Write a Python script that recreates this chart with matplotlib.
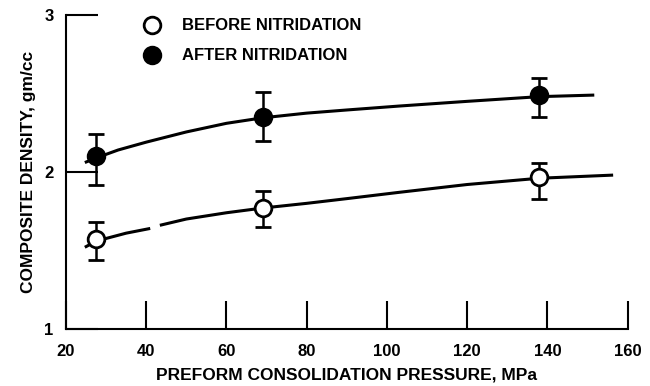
import matplotlib
matplotlib.use("Agg")
import matplotlib.pyplot as plt

# Data
pressure = [27.6, 69, 138]
before_density = [1.57, 1.77, 1.97]
before_err_low = [0.13, 0.12, 0.14]
before_err_high = [0.11, 0.11, 0.09]
after_density = [2.10, 2.35, 2.49]
after_err_low = [0.18, 0.15, 0.14]
after_err_high = [0.14, 0.16, 0.11]

# fitted curves (before curve has a small gap)
before_curve_x1 = [24.7, 27.6, 35, 41]
before_curve_y1 = [1.52, 1.56, 1.61, 1.64]
before_curve_x2 = [43.4, 50, 60, 69, 80, 90, 103, 120, 138, 156.4]
before_curve_y2 = [1.66, 1.70, 1.74, 1.77, 1.80, 1.83, 1.87, 1.92, 1.96, 1.98]
after_curve_x = [24.7, 27.6, 33, 40, 50, 60, 69, 80, 90, 103, 120, 138, 151.7]
after_curve_y = [2.06, 2.09, 2.14, 2.19, 2.255, 2.31, 2.345, 2.375, 2.395, 2.42, 2.45, 2.48, 2.49]

xticks = [20, 40, 60, 80, 100, 120, 140, 160]
yticks = [1, 2, 3]

plt.rcParams['font.family'] = ['Liberation Sans', 'DejaVu Sans']

fig = plt.figure(figsize=(6.5, 3.86), dpi=100)
ax = fig.add_axes([0.1015, 0.148, 0.864, 0.813])

lw = 2.2
ax.plot(before_curve_x1, before_curve_y1, color='black', lw=lw, solid_capstyle='butt')
ax.plot(before_curve_x2, before_curve_y2, color='black', lw=lw, solid_capstyle='butt')
ax.plot(after_curve_x, after_curve_y, color='black', lw=lw, solid_capstyle='butt')

ax.errorbar(pressure, before_density, yerr=[before_err_low, before_err_high],
            fmt='o', color='black', mfc='white', mec='black', ms=12, mew=2,
            ecolor='black', elinewidth=1.8, capsize=6, capthick=1.8, zorder=3)
ax.errorbar(pressure, after_density, yerr=[after_err_low, after_err_high],
            fmt='o', color='black', mfc='black', mec='black', ms=12, mew=2,
            ecolor='black', elinewidth=1.8, capsize=6, capthick=1.8, zorder=3)

ax.set_xlim(20, 160)
ax.set_ylim(1, 3)
ax.set_xticks(xticks)
ax.set_yticks(yticks)
ax.set_xticklabels([str(v) for v in xticks], fontsize=12, fontweight='bold')
ax.set_yticklabels([str(v) for v in yticks], fontsize=12, fontweight='bold')
ax.tick_params(axis='x', direction='in', length=20, width=1.5, pad=11)
ax.tick_params(axis='y', direction='in', length=23, width=1.5, pad=9)

for s in ['top', 'right']:
    ax.spines[s].set_visible(False)
for s in ['left', 'bottom']:
    ax.spines[s].set_linewidth(1.5)

ax.set_xlabel('PREFORM CONSOLIDATION PRESSURE, MPa', fontsize=12.5, fontweight='bold', labelpad=6)
ax.set_ylabel('COMPOSITE DENSITY, gm/cc', fontsize=12.5, fontweight='bold', labelpad=6)

# legend
ax.plot([41.5], [2.935], 'o', mfc='white', mec='black', ms=12, mew=2, clip_on=False)
ax.plot([41.5], [2.745], 'o', mfc='black', mec='black', ms=12, mew=2, clip_on=False)
ax.text(49, 2.935, 'BEFORE NITRIDATION', fontsize=12, fontweight='bold', va='center', ha='left')
ax.text(49, 2.745, 'AFTER NITRIDATION', fontsize=12, fontweight='bold', va='center', ha='left')

fig.savefig('out.png', dpi=100)
